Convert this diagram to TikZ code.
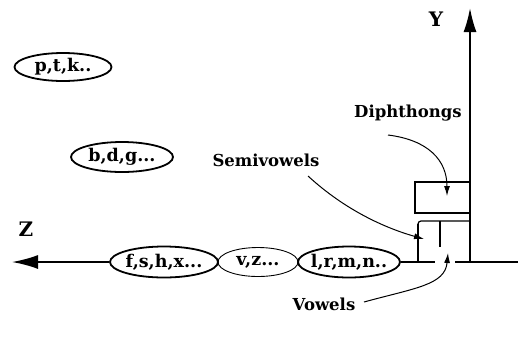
\documentclass[tikz,border=0pt]{standalone}
\usepackage{fontspec}
\setmainfont{DejaVu Serif}
\usetikzlibrary{shapes.geometric,arrows.meta}
\tikzset{
  lab/.style={font=\bfseries\fontsize{16.5}{18}\selectfont, inner sep=0pt},
  axlab/.style={font=\bfseries\fontsize{20}{22}\selectfont, inner sep=0pt},
  ell/.style={ellipse, draw, line width=1.8pt, inner sep=-12pt, font=\bfseries\fontsize{17.5}{20}\selectfont},
  thinell/.style={ell, line width=0.9pt},
  axis/.style={line width=1.8pt},
  box/.style={line width=1.2pt},
  pointer/.style={line width=1pt, -{Latex[length=10pt,width=6pt]}},
}
\begin{document}
\begin{tikzpicture}[x=1pt,y=-1pt]
\useasboundingbox (0,0) rectangle (518,338);
% left ellipses
\node[ell, minimum width=97pt, minimum height=28pt] (ptk) at (63,67) {p,t,k..};
\node[ell, minimum width=102pt, minimum height=30pt] (bdg) at (122,157) {b,d,g...};
% baseline ellipses
\node[ell, minimum width=108pt, minimum height=31pt] (fshx) at (164,262) {f,s,h,x...};
\node[thinell, minimum width=80pt, minimum height=29pt] (vz) at (258,262) {v,z...};
\node[ell, minimum width=102pt, minimum height=31pt] (lrmn) at (349,262) {l,r,m,n..};
% labels
\node[axlab] (zl) at (26,229) {Z};
\node[axlab] (yl) at (436,19) {Y};
\node[lab] (dl) at (408,113) {Diphthongs};
\node[lab] (sl) at (266,160) {Semivowels};
\node[lab] (vl) at (324,304) {Vowels};
% coordinates
\coordinate (zend) at (12,262);
\coordinate (origin) at (470,262);
\coordinate (yend) at (470,8);
\coordinate (gapl) at (435,262);
\coordinate (gapr) at (455,262);
\coordinate (rend) at (518,262);
\coordinate (dstart) at (388,135);
\coordinate (dtip) at (447,196);
\coordinate (sstart) at (308,176);
\coordinate (stip) at (424,239);
\coordinate (vstart) at (364,302);
\coordinate (vtip) at (448,253);
% axes
\draw[axis, -{Latex[length=26pt,width=14pt]}] (fshx.west) -- (zend);
\draw[axis, -{Latex[length=24pt,width=13pt]}] (origin) -- (yend);
\draw[axis] (lrmn.east) -- (gapl);
\draw[axis] (gapr) -- (rend);
% boxes
\draw[box] (470,182) -- (415,182) -- (415,213) -- (470,213);
\draw[box, rounded corners=3pt] (418,262) -- (418,221) -- (470,221);
\draw[line width=1.8pt] (418,262) -- (418,224);
\draw[box] (440,221) -- (440,247);
% pointers
\draw[pointer] (dstart) .. controls (428,140) and (447,160) .. (dtip);
\draw[pointer] (sstart) .. controls (345,210) and (385,228) .. (stip);
\draw[pointer] (vstart) .. controls (415,288) and (445,285) .. (vtip);
\end{tikzpicture}
\end{document}
